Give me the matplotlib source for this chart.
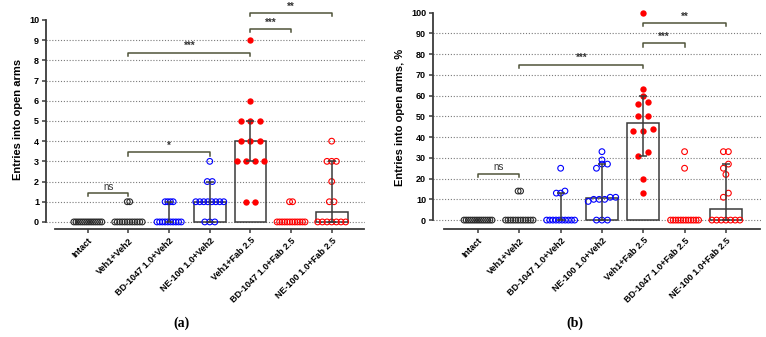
import numpy as np
import matplotlib
matplotlib.use("Agg")
from matplotlib import pyplot as plt

plt.rcParams['font.family'] = ['Liberation Sans', 'DejaVu Sans']

groups = ["Intact", "Veh1+Veh2", "BD-1047 1.0+Veh2", "NE-100 1.0+Veh2",
          "Veh1+Fab 2.5", "BD-1047 1.0+Fab 2.5", "NE-100 1.0+Fab 2.5"]

# (a) number of entries into open arms
entries = [
    [0, 0, 0, 0, 0, 0, 0, 0, 0, 0, 0, 0, 0, 0],
    [0, 0, 0, 0, 0, 0, 0, 0, 0, 0, 0, 0, 1, 1],
    [0, 0, 0, 0, 0, 0, 0, 0, 0, 0, 1, 1, 1, 1],
    [0, 0, 0, 1, 1, 1, 1, 1, 1, 1, 1, 2, 2, 3],
    [1, 1, 3, 3, 3, 3, 4, 4, 4, 5, 5, 5, 6, 9],
    [0, 0, 0, 0, 0, 0, 0, 0, 0, 0, 0, 0, 1, 1],
    [0, 0, 0, 0, 0, 0, 0, 1, 1, 2, 3, 3, 3, 4],
]
entries_median = [0, 0, 0, 1, 4, 0, 0.5]
entries_q1 = [0, 0, 0, 0, 3, 0, 0]
entries_q3 = [0, 0, 1, 2, 5, 0, 3]
entries_sig = [(0, 1, 1.43, "ns"), (1, 3, 3.44, "*"), (1, 4, 8.38, "***"),
               (4, 5, 9.55, "***"), (4, 6, 10.33, "**")]

# (b) entries into open arms, %
percent = [
    [0, 0, 0, 0, 0, 0, 0, 0, 0, 0, 0, 0, 0, 0],
    [0, 0, 0, 0, 0, 0, 0, 0, 0, 0, 0, 0, 14, 14],
    [0, 0, 0, 0, 0, 0, 0, 0, 0, 0, 13, 13, 14, 25],
    [0, 0, 0, 9, 10, 10, 10, 11, 11, 25, 27, 27, 29, 33],
    [13, 20, 31, 33, 43, 43, 44, 50, 50, 56, 57, 60, 63, 100],
    [0, 0, 0, 0, 0, 0, 0, 0, 0, 0, 0, 0, 25, 33],
    [0, 0, 0, 0, 0, 0, 0, 11, 13, 22, 25, 27, 33, 33],
]
percent_median = [0, 0, 0, 10.5, 47, 0, 5.5]
percent_q1 = [0, 0, 0, 0, 31, 0, 0]
percent_q3 = [0, 0, 13, 27, 60, 0, 27]
percent_sig = [(0, 1, 22.3, "ns"), (1, 4, 75, "***"),
               (4, 5, 85.2, "***"), (4, 6, 94.9, "**")]

colors = ['#2a2a2a', '#2a2a2a', '#0000ff', '#0000ff', '#ff0000', '#ff0000', '#ff0000']
filled = [False, False, False, False, True, False, False]
bracket_color = '#4f5439'
dark = '#3a3a3a'


def swarm_offsets(vals, ax, gap_px, bin_px=4.5, span_px=28):
    sx = np.diff(ax.get_xlim())[0] / ax.bbox.width
    sy = np.diff(ax.get_ylim())[0] / ax.bbox.height
    vals = np.asarray(vals, dtype=float)
    order = np.argsort(vals, kind='stable')
    rows = []
    for i in order:
        if rows and (vals[i] - vals[rows[-1][0]]) / sy < bin_px:
            rows[-1].append(i)
        else:
            rows.append([i])
    offs = np.zeros(len(vals))
    for row in rows:
        n = len(row)
        gap = gap_px if n == 1 else min(gap_px, span_px / (n - 1))
        for k, i in enumerate(row):
            offs[i] = (k - (n - 1) / 2) * gap * sx
    return offs


def draw_panel(ax, data, med, q1, q3, sig, gaps, ymax, ystep, ylabel, xlim, ylim, xbounds):
    ax.set_xlim(xlim)
    ax.set_ylim(ylim)
    x = np.arange(len(groups))

    for i in x:
        if med[i] > 0:
            ax.bar(i, med[i], width=0.78, facecolor='none', edgecolor=dark,
                   linewidth=1.1, zorder=2)
        if q3[i] > q1[i]:
            ax.errorbar(i, med[i], yerr=[[med[i] - q1[i]], [q3[i] - med[i]]],
                        fmt='none', ecolor=dark, elinewidth=1.1, capsize=3,
                        capthick=1.1, zorder=4)
        offs = swarm_offsets(data[i], ax, gaps[i])
        if filled[i]:
            ax.scatter(i + offs, data[i], s=21, color=colors[i], linewidths=0,
                       zorder=3, clip_on=False)
        else:
            ax.scatter(i + offs, data[i], s=17, facecolors='none',
                       edgecolors=colors[i], linewidths=0.8, zorder=3, clip_on=False)

    for a, b, y, label in sig:
        h = (ylim[1] - ylim[0]) * 0.014
        ax.plot([a, a, b, b], [y - h, y, y, y - h], color=bracket_color,
                linewidth=1.1, clip_on=False, zorder=5)
        ax.text((a + b) / 2, y + h * 0.5, label, ha='center', va='bottom',
                fontsize=7, fontweight='bold' if label != "ns" else 'normal',
                color='#333333', clip_on=False)

    ax.set_yticks(np.arange(0, ymax + ystep / 2, ystep))
    ax.set_xticks(x)
    ax.set_xticklabels(groups, rotation=45, ha='right', rotation_mode='anchor',
                       fontsize=6.5, fontweight='bold')
    for lab in ax.get_yticklabels():
        lab.set_fontweight('bold')
        lab.set_fontsize(6.5)
    ax.tick_params(axis='both', direction='out', length=3, width=1.1, color=dark, pad=2)
    ax.set_ylabel(ylabel, fontsize=8, fontweight='bold', labelpad=4)

    ax.yaxis.grid(True, linestyle=(0, (1, 1.6)), color='#7a7a7a', linewidth=0.8)
    ax.get_ygridlines()[-1].set_visible(False)
    ax.set_axisbelow(True)

    for side in ['top', 'right']:
        ax.spines[side].set_visible(False)
    ax.spines['left'].set_bounds(0, ymax)
    ax.spines['bottom'].set_bounds(*xbounds)
    for side in ['left', 'bottom']:
        ax.spines[side].set_color(dark)
        ax.spines[side].set_linewidth(1.3)


fig = plt.figure(figsize=(7.66, 3.37), dpi=100)
W, H = 766, 337

ax_a = fig.add_axes([46 / W, 1 - 229 / H, (365 - 46) / W, (229 - 9.9) / H])
draw_panel(ax_a, entries, entries_median, entries_q1, entries_q3, entries_sig,
           gaps=[2.5, 2.5, 2.7, 5, 9.2, 3, 4.7], ymax=10, ystep=1,
           ylabel="Entries into open arms", xlim=(-1.03, 6.82),
           ylim=(-0.35, 10.5), xbounds=(-0.8, 6.8))

ax_b = fig.add_axes([433 / W, 1 - 229 / H, (761 - 433) / W, (229 - 6.5) / H])
draw_panel(ax_b, percent, percent_median, percent_q1, percent_q3, percent_sig,
           gaps=[2.5, 2.5, 4.3, 5.5, 10, 3, 5], ymax=100, ystep=10,
           ylabel="Entries into open arms, %", xlim=(-1.09, 6.85),
           ylim=(-4.3, 103), xbounds=(-0.82, 6.83))

fig.text(182 / W, 1 - 323 / H, "(a)", family='Liberation Serif', fontsize=10,
         fontweight='bold', ha='center', va='center')
fig.text(575 / W, 1 - 323 / H, "(b)", family='Liberation Serif', fontsize=10,
         fontweight='bold', ha='center', va='center')

fig.savefig("out.png", dpi=100)
